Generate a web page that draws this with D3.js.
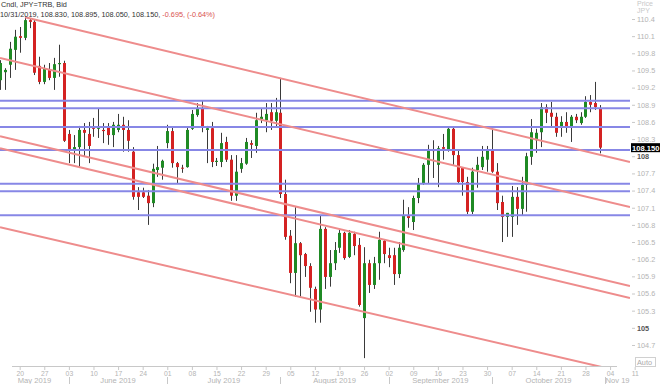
<!DOCTYPE html>
<html>
<head>
<meta charset="utf-8">
<script src="https://cdn.jsdelivr.net/npm/d3@7"></script>
<style>
    html, body { margin: 0; padding: 0; background: #fff; }
    svg { display: block; font-family: "Liberation Sans", Arial, sans-serif; }
</style>
</head>
<body>
<div id="chart"></div>
<script>
// Daily USD/JPY candles, first bar = 14 May 2019, weekdays only
const startDate = new Date(2019, 4, 14);

const opens = [109.33, 109.47, 109.60, 109.86, 110.10, 110.07, 110.38, 110.35, 109.58, 109.30,
    109.51, 109.37, 109.61, 109.63, 108.39, 108.11, 108.16, 108.46, 108.39, 108.51,
    108.48, 108.46, 108.51, 108.37, 108.46, 108.55, 108.46, 108.08, 107.37, 107.37,
    107.31, 107.18, 107.76, 107.80, 108.23, 108.44, 107.88, 107.80, 107.81, 108.48,
    108.72, 108.84, 108.46, 108.49, 107.90, 107.90, 108.25, 107.94, 107.31, 107.78,
    107.87, 108.23, 108.18, 108.65, 108.63, 108.77, 108.62, 108.76, 107.34, 106.61,
    105.96, 106.48, 106.29, 106.08, 105.68, 105.32, 106.73, 105.89, 106.13, 106.40,
    106.66, 106.24, 106.64, 106.45, 105.17, 106.13, 105.75, 106.13, 106.52, 106.27,
    106.27, 105.94, 106.36, 106.97, 106.85, 107.27, 107.53, 107.85, 108.11, 107.85,
    108.16, 108.11, 108.48, 108.02, 107.80, 107.55, 107.03, 107.76, 107.81, 107.94,
    108.11, 107.73, 107.20, 106.94, 106.94, 107.29, 107.08, 107.50, 107.99, 108.28,
    108.42, 108.86, 108.76, 108.69, 108.51, 108.60, 108.51, 108.69, 108.58, 108.69,
    108.95, 108.93, 108.83];
const highs = [109.68, 109.54, 110.00, 110.21, 110.26, 110.43, 110.40, 110.38, 109.74, 109.60,
    109.63, 109.72, 109.95, 109.67, 108.46, 108.37, 108.53, 108.58, 108.60, 108.67,
    108.83, 108.58, 108.58, 108.60, 108.74, 108.69, 108.63, 108.16, 107.46, 107.45,
    107.41, 107.87, 108.18, 107.94, 108.55, 108.51, 107.90, 107.85, 108.50, 108.81,
    108.93, 108.98, 108.53, 108.60, 107.97, 108.41, 108.34, 108.02, 108.02, 107.97,
    108.32, 108.28, 108.76, 108.84, 108.93, 108.93, 109.02, 109.37, 107.59, 106.71,
    107.11, 106.50, 106.31, 106.13, 105.72, 106.97, 106.76, 106.36, 106.50, 106.71,
    106.68, 106.71, 106.68, 106.57, 106.41, 106.19, 106.24, 106.68, 106.55, 106.40,
    106.40, 106.50, 107.24, 107.11, 107.31, 107.62, 107.88, 108.20, 108.28, 108.18,
    108.39, 108.50, 108.50, 108.11, 107.81, 107.64, 107.80, 107.99, 108.18, 108.18,
    108.48, 107.88, 107.31, 107.01, 107.48, 107.46, 107.64, 108.06, 108.65, 108.48,
    108.93, 108.91, 108.95, 108.76, 108.70, 108.77, 108.72, 108.74, 108.77, 109.05,
    109.07, 109.30, 108.895];
const lows = [109.16, 109.16, 109.37, 109.51, 109.81, 110.03, 110.24, 109.42, 109.26, 109.26,
    109.33, 109.16, 109.39, 108.25, 107.88, 107.88, 107.81, 107.99, 107.88, 108.34,
    108.32, 108.23, 108.20, 108.16, 108.42, 108.08, 108.08, 107.24, 107.06, 107.27,
    106.80, 107.11, 107.64, 107.59, 108.14, 107.80, 107.53, 107.71, 107.80, 108.46,
    108.69, 108.42, 107.88, 107.81, 107.83, 107.81, 107.90, 107.22, 107.22, 107.71,
    107.85, 107.97, 108.06, 108.58, 108.42, 108.46, 108.50, 107.27, 106.54, 105.78,
    105.54, 105.54, 105.89, 105.28, 105.09, 105.09, 105.68, 105.72, 106.01, 106.31,
    106.19, 106.22, 106.27, 105.37, 104.47, 105.61, 105.68, 105.84, 106.13, 106.06,
    105.75, 105.87, 106.33, 106.75, 106.71, 107.18, 107.50, 107.53, 107.62, 107.46,
    107.94, 108.08, 107.85, 107.53, 107.31, 106.99, 106.99, 107.45, 107.76, 107.73,
    107.71, 107.06, 106.50, 106.59, 106.59, 106.80, 106.96, 107.03, 107.85, 108.06,
    108.16, 108.58, 108.50, 108.34, 108.34, 108.41, 108.25, 108.58, 108.55, 108.67,
    108.77, 108.81, 108.05];
const closes = [109.63, 109.51, 109.88, 110.09, 110.07, 110.38, 110.35, 109.46, 109.30, 109.53,
    109.37, 109.61, 109.63, 108.27, 108.11, 108.16, 108.46, 108.41, 108.18, 108.48,
    108.51, 108.44, 108.37, 108.55, 108.55, 108.46, 108.27, 107.29, 107.29, 107.29,
    107.18, 107.78, 107.81, 107.92, 108.44, 107.88, 107.81, 107.79, 108.46, 108.74,
    108.84, 108.51, 108.49, 107.90, 107.92, 108.23, 107.94, 107.31, 107.73, 107.88,
    108.25, 108.20, 108.63, 108.69, 108.74, 108.62, 108.77, 107.34, 106.59, 105.96,
    106.48, 106.27, 106.08, 105.70, 105.32, 106.73, 105.89, 106.13, 106.36, 106.66,
    106.22, 106.66, 106.43, 105.40, 106.13, 105.75, 106.13, 106.54, 106.29, 106.22,
    105.94, 106.40, 106.97, 106.92, 107.27, 107.53, 107.85, 108.11, 108.09, 108.14,
    108.13, 108.48, 108.02, 107.55, 107.55, 107.03, 107.73, 107.85, 107.99, 108.11,
    107.73, 107.18, 106.94, 107.01, 107.29, 107.08, 107.50, 108.00, 108.42, 108.41,
    108.86, 108.76, 108.69, 108.41, 108.60, 108.51, 108.69, 108.63, 108.69, 108.95,
    108.90, 108.86, 108.15];

// horizontal support / resistance levels
const levels = [108.97, 108.84, 108.51, 108.11, 107.52, 107.39, 106.97];

// channel lines: [bar index, price, bar index, price]
const channelLines = [
    [5.08, 110.43, 128.05, 107.90],
    [0, 109.72, 128.05, 107.11],
    [0, 108.35, 128.05, 105.73],
    [0, 108.14, 128.05, 105.52],
    [0, 106.76, 128.05, 104.20]
];

const yTicks = [110.4, 110.1, 109.8, 109.5, 109.2, 108.9, 108.6, 108.3, 108, 107.7,
    107.4, 107.1, 106.8, 106.5, 106.2, 105.9, 105.6, 105.3, 105, 104.7];
const monthLabels = ["May 2019", "June 2019", "July 2019", "August 2019",
    "September 2019", "October 2019", "Nov 19"];

const headerInfo = "10/31/2019, 108.830, 108.895, 108.050, 108.150, ";
const headerChange = "-0.695, (-0.64%)";

const width = 660;
const height = 384;
const plotRight = 630;
const plotBottom = 366;
const lastIdx = 128.05;

// trading days (Mon-Fri) covering the visible range
const dates = [];
for (let d = new Date(startDate); dates.length <= Math.ceil(lastIdx); d.setDate(d.getDate() + 1)) {
    if (d.getDay() !== 0 && d.getDay() !== 6) dates.push(new Date(d));
}

const candles = opens.map((o, i) => ({
    i: i, open: o, high: highs[i], low: lows[i], close: closes[i]
}));

const x = d3.scaleLinear().domain([0, lastIdx]).range([0, plotRight]);
const y = d3.scaleLinear().domain([104.35, 110.732]).range([365, 0]);

const svg = d3.select("#chart").append("svg")
    .attr("width", width)
    .attr("height", height);

svg.append("defs").append("clipPath")
    .attr("id", "plot-clip")
  .append("rect")
    .attr("x", 0).attr("y", 0)
    .attr("width", plotRight).attr("height", plotBottom);

// candles
const candleG = svg.append("g");
const bodyW = 3;

candleG.selectAll("line.wick")
    .data(candles)
    .enter().append("line")
    .attr("class", "wick")
    .attr("x1", d => Math.round(x(d.i)) + 0.5)
    .attr("x2", d => Math.round(x(d.i)) + 0.5)
    .attr("y1", d => y(d.high))
    .attr("y2", d => y(d.low))
    .attr("stroke", "#3a3a3a")
    .attr("stroke-width", 1);

candleG.selectAll("rect.body")
    .data(candles)
    .enter().append("rect")
    .attr("class", "body")
    .attr("x", d => Math.round(x(d.i)) - 1)
    .attr("width", bodyW)
    .attr("y", d => y(Math.max(d.open, d.close)))
    .attr("height", d => Math.max(1, Math.abs(y(d.open) - y(d.close))))
    .attr("fill", d => d.close >= d.open ? "#1f8a24" : "#d42222");

// lines on top of candles
const linesG = svg.append("g").attr("clip-path", "url(#plot-clip)");

linesG.selectAll("line.level")
    .data(levels)
    .enter().append("line")
    .attr("class", "level")
    .attr("x1", 0)
    .attr("x2", plotRight)
    .attr("y1", d => y(d))
    .attr("y2", d => y(d))
    .attr("stroke", "#8787e6")
    .attr("stroke-width", 2);

linesG.selectAll("line.channel")
    .data(channelLines)
    .enter().append("line")
    .attr("class", "channel")
    .attr("x1", d => x(d[0]))
    .attr("y1", d => y(d[1]))
    .attr("x2", d => x(d[2]))
    .attr("y2", d => y(d[3]))
    .attr("stroke", "#ee8c8c")
    .attr("stroke-width", 2);

// right price axis
const yAxis = svg.append("g")
    .attr("transform", `translate(632,0)`)
    .call(d3.axisRight(y)
        .tickValues(yTicks)
        .tickSize(3)
        .tickPadding(2)
        .tickFormat(d => String(+d.toFixed(1))));

yAxis.select(".domain").remove();
yAxis.selectAll(".tick line").attr("stroke", "#c8c8c8");
yAxis.selectAll(".tick text")
    .attr("font-family", "\"Liberation Sans\", Arial, sans-serif")
    .attr("font-size", "7.3px")
    .attr("fill", d => Number.isInteger(d) ? "#555" : "#b4b4b4")
    .attr("font-weight", d => Number.isInteger(d) ? "bold" : "normal");

svg.append("text")
    .attr("x", 637).attr("y", 6)
    .attr("font-size", "7px")
    .attr("fill", "#c8c8c8")
    .text("Price");
svg.append("text")
    .attr("x", 637).attr("y", 13)
    .attr("font-size", "7px")
    .attr("fill", "#c8c8c8")
    .text("JPY");

// last price tag
const lastClose = closes[closes.length - 1];
svg.append("rect")
    .attr("x", 631)
    .attr("y", y(lastClose) - 4.5)
    .attr("width", 29)
    .attr("height", 9)
    .attr("fill", "#000");
svg.append("text")
    .attr("x", 632)
    .attr("y", y(lastClose) + 3)
    .attr("font-size", "7.6px")
    .attr("font-weight", "bold")
    .attr("fill", "#fff")
    .text(lastClose.toFixed(3));

// "Auto" button
svg.append("rect")
    .attr("x", 635.5).attr("y", 357.5)
    .attr("width", 20).attr("height", 9)
    .attr("fill", "#fff")
    .attr("stroke", "#d0d0d0");
svg.append("text")
    .attr("x", 637).attr("y", 365)
    .attr("font-size", "7.3px")
    .attr("fill", "#aaa")
    .text("Auto");

// bottom date axis
svg.append("line")
    .attr("x1", 12).attr("x2", 617)
    .attr("y1", plotBottom + 0.5).attr("y2", plotBottom + 0.5)
    .attr("stroke", "#c8c8c8");

const mondays = d3.range(dates.length).filter(i => dates[i].getDay() === 1);
const xAxis = svg.append("g")
    .attr("transform", `translate(0,${plotBottom + 1})`)
    .call(d3.axisBottom(x)
        .tickValues(mondays)
        .tickSize(3)
        .tickPadding(1)
        .tickFormat(i => d3.timeFormat("%d")(dates[i])));

xAxis.select(".domain").remove();
xAxis.selectAll(".tick line").attr("stroke", "#c8c8c8");
xAxis.selectAll(".tick text")
    .attr("font-family", "\"Liberation Sans\", Arial, sans-serif")
    .attr("font-size", "6.8px")
    .attr("fill", "#b4b4b4");

// month separators and labels
const monthStarts = d3.range(1, dates.length)
    .filter(i => dates[i].getMonth() !== dates[i - 1].getMonth());
const bounds = [0].concat(monthStarts.map(i => x(i))).concat([plotRight]);

svg.selectAll("line.month-sep")
    .data(monthStarts)
    .enter().append("line")
    .attr("class", "month-sep")
    .attr("x1", i => Math.round(x(i)) + 0.5)
    .attr("x2", i => Math.round(x(i)) + 0.5)
    .attr("y1", 377)
    .attr("y2", 384)
    .attr("stroke", "#c8c8c8");

svg.selectAll("text.month")
    .data(monthLabels)
    .enter().append("text")
    .attr("class", "month")
    .attr("x", (d, k) => (bounds[k] + bounds[k + 1]) / 2)
    .attr("y", 383)
    .attr("text-anchor", "middle")
    .attr("font-size", "7.6px")
    .attr("fill", "#b4b4b4")
    .text(d => d);

// header
svg.append("text")
    .attr("x", 1).attr("y", 7)
    .attr("font-size", "7.3px")
    .attr("fill", "#333")
    .text("Cndl, JPY=TRB, Bid");

const header = svg.append("text")
    .attr("x", 0).attr("y", 16.5)
    .attr("font-size", "7.3px")
    .attr("fill", "#333");
header.append("tspan").text(headerInfo);
header.append("tspan").attr("fill", "#d9534f").text(headerChange);
</script>
</body>
</html>
